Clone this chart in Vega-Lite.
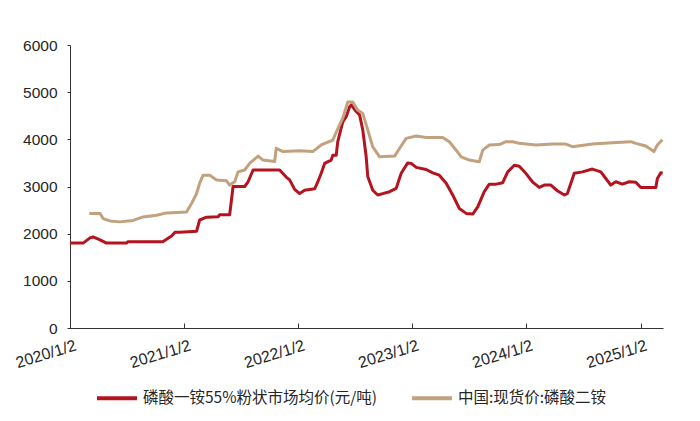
{
  "$schema": "https://vega.github.io/schema/vega-lite/v6.json",
  "autosize": {"type": "none"},
  "padding": {"left": 70, "top": 45, "right": 37, "bottom": 93},
  "width": 593,
  "height": 283,
  "background": "white",
  "config": {
    "view": {"stroke": null},
    "axis": {"grid": false, "domainColor": "#333333", "tickColor": "#333333", "labelColor": "#262626", "labelFont": "Liberation Sans", "labelFontSize": 15.5}
  },
  "datasets": {
    "prices": [
      {"date": "2020-01-02", "series": "磷酸一铵55%粉状市场均价(元/吨)", "value": 1800},
      {"date": "2020-02-13", "series": "磷酸一铵55%粉状市场均价(元/吨)", "value": 1800},
      {"date": "2020-03-06", "series": "磷酸一铵55%粉状市场均价(元/吨)", "value": 1910},
      {"date": "2020-03-16", "series": "磷酸一铵55%粉状市场均价(元/吨)", "value": 1930},
      {"date": "2020-04-07", "series": "磷酸一铵55%粉状市场均价(元/吨)", "value": 1870},
      {"date": "2020-04-28", "series": "磷酸一铵55%粉状市场均价(元/吨)", "value": 1800},
      {"date": "2020-07-01", "series": "磷酸一铵55%粉状市场均价(元/吨)", "value": 1800},
      {"date": "2020-07-05", "series": "磷酸一铵55%粉状市场均价(元/吨)", "value": 1830},
      {"date": "2020-10-25", "series": "磷酸一铵55%粉状市场均价(元/吨)", "value": 1830},
      {"date": "2020-11-06", "series": "磷酸一铵55%粉状市场均价(元/吨)", "value": 1880},
      {"date": "2020-11-22", "series": "磷酸一铵55%粉状市场均价(元/吨)", "value": 1950},
      {"date": "2020-12-03", "series": "磷酸一铵55%粉状市场均价(元/吨)", "value": 2030},
      {"date": "2020-12-19", "series": "磷酸一铵55%粉状市场均价(元/吨)", "value": 2030},
      {"date": "2021-02-10", "series": "磷酸一铵55%粉状市场均价(元/吨)", "value": 2050},
      {"date": "2021-02-20", "series": "磷酸一铵55%粉状市场均价(元/吨)", "value": 2290},
      {"date": "2021-03-14", "series": "磷酸一铵55%粉状市场均价(元/吨)", "value": 2350},
      {"date": "2021-04-20", "series": "磷酸一铵55%粉状市场均价(元/吨)", "value": 2360},
      {"date": "2021-04-25", "series": "磷酸一铵55%粉状市场均价(元/吨)", "value": 2400},
      {"date": "2021-05-27", "series": "磷酸一铵55%粉状市场均价(元/吨)", "value": 2400},
      {"date": "2021-06-07", "series": "磷酸一铵55%粉状市场均价(元/吨)", "value": 3000},
      {"date": "2021-07-14", "series": "磷酸一铵55%粉状市场均价(元/吨)", "value": 3000},
      {"date": "2021-07-25", "series": "磷酸一铵55%粉状市场均价(元/吨)", "value": 3100},
      {"date": "2021-08-10", "series": "磷酸一铵55%粉状市场均价(元/吨)", "value": 3350},
      {"date": "2021-11-03", "series": "磷酸一铵55%粉状市场均价(元/吨)", "value": 3350},
      {"date": "2021-11-24", "series": "磷酸一铵55%粉状市场均价(元/吨)", "value": 3200},
      {"date": "2021-12-05", "series": "磷酸一铵55%粉状市场均价(元/吨)", "value": 3140},
      {"date": "2021-12-21", "series": "磷酸一铵55%粉状市场均价(元/吨)", "value": 2940},
      {"date": "2022-01-06", "series": "磷酸一铵55%粉状市场均价(元/吨)", "value": 2850},
      {"date": "2022-01-22", "series": "磷酸一铵55%粉状市场均价(元/吨)", "value": 2920},
      {"date": "2022-02-23", "series": "磷酸一铵55%粉状市场均价(元/吨)", "value": 2950},
      {"date": "2022-03-04", "series": "磷酸一铵55%粉状市场均价(元/吨)", "value": 3080},
      {"date": "2022-03-16", "series": "磷酸一铵55%粉状市场均价(元/吨)", "value": 3280},
      {"date": "2022-03-27", "series": "磷酸一铵55%粉状市场均价(元/吨)", "value": 3490},
      {"date": "2022-04-17", "series": "磷酸一铵55%粉状市场均价(元/吨)", "value": 3560},
      {"date": "2022-04-22", "series": "磷酸一铵55%粉状市场均价(元/吨)", "value": 3660},
      {"date": "2022-05-03", "series": "磷酸一铵55%粉状市场均价(元/吨)", "value": 3660},
      {"date": "2022-05-08", "series": "磷酸一铵55%粉状市场均价(元/吨)", "value": 3950},
      {"date": "2022-05-24", "series": "磷酸一铵55%粉状市场均价(元/吨)", "value": 4370},
      {"date": "2022-06-04", "series": "磷酸一铵55%粉状市场均价(元/吨)", "value": 4480},
      {"date": "2022-06-15", "series": "磷酸一铵55%粉状市场均价(元/吨)", "value": 4690},
      {"date": "2022-06-20", "series": "磷酸一铵55%粉状市场均价(元/吨)", "value": 4730},
      {"date": "2022-07-06", "series": "磷酸一铵55%粉状市场均价(元/吨)", "value": 4590},
      {"date": "2022-07-17", "series": "磷酸一铵55%粉状市场均价(元/吨)", "value": 4515},
      {"date": "2022-07-27", "series": "磷酸一铵55%粉状市场均价(元/吨)", "value": 4200},
      {"date": "2022-08-07", "series": "磷酸一铵55%粉状市场均价(元/吨)", "value": 3630},
      {"date": "2022-08-12", "series": "磷酸一铵55%粉状市场均价(元/吨)", "value": 3210},
      {"date": "2022-08-28", "series": "磷酸一铵55%粉状市场均价(元/吨)", "value": 2920},
      {"date": "2022-09-13", "series": "磷酸一铵55%粉状市场均价(元/吨)", "value": 2820},
      {"date": "2022-09-29", "series": "磷酸一铵55%粉状市场均价(元/吨)", "value": 2850},
      {"date": "2022-10-21", "series": "磷酸一铵55%粉状市场均价(元/吨)", "value": 2890},
      {"date": "2022-11-11", "series": "磷酸一铵55%粉状市场均价(元/吨)", "value": 2960},
      {"date": "2022-11-27", "series": "磷酸一铵55%粉状市场均价(元/吨)", "value": 3280},
      {"date": "2022-12-18", "series": "磷酸一铵55%粉状市场均价(元/吨)", "value": 3500},
      {"date": "2022-12-29", "series": "磷酸一铵55%粉状市场均价(元/吨)", "value": 3490},
      {"date": "2023-01-14", "series": "磷酸一铵55%粉状市场均价(元/吨)", "value": 3405},
      {"date": "2023-02-15", "series": "磷酸一铵55%粉状市场均价(元/吨)", "value": 3360},
      {"date": "2023-03-08", "series": "磷酸一铵55%粉状市场均价(元/吨)", "value": 3290},
      {"date": "2023-03-29", "series": "磷酸一铵55%粉状市场均价(元/吨)", "value": 3240},
      {"date": "2023-04-20", "series": "磷酸一铵55%粉状市场均价(元/吨)", "value": 3070},
      {"date": "2023-05-11", "series": "磷酸一铵55%粉状市场均价(元/吨)", "value": 2820},
      {"date": "2023-06-01", "series": "磷酸一铵55%粉状市场均价(元/吨)", "value": 2535},
      {"date": "2023-06-23", "series": "磷酸一铵55%粉状市场均价(元/吨)", "value": 2430},
      {"date": "2023-07-14", "series": "磷酸一铵55%粉状市场均价(元/吨)", "value": 2415},
      {"date": "2023-07-30", "series": "磷酸一铵55%粉状市场均价(元/吨)", "value": 2570},
      {"date": "2023-08-20", "series": "磷酸一铵55%粉状市场均价(元/吨)", "value": 2890},
      {"date": "2023-09-05", "series": "磷酸一铵55%粉状市场均价(元/吨)", "value": 3050},
      {"date": "2023-09-27", "series": "磷酸一铵55%粉状市场均价(元/吨)", "value": 3050},
      {"date": "2023-10-18", "series": "磷酸一铵55%粉状市场均价(元/吨)", "value": 3080},
      {"date": "2023-11-03", "series": "磷酸一铵55%粉状市场均价(元/吨)", "value": 3310},
      {"date": "2023-11-24", "series": "磷酸一铵55%粉状市场均价(元/吨)", "value": 3450},
      {"date": "2023-12-10", "series": "磷酸一铵55%粉状市场均价(元/吨)", "value": 3430},
      {"date": "2023-12-31", "series": "磷酸一铵55%粉状市场均价(元/吨)", "value": 3280},
      {"date": "2024-01-21", "series": "磷酸一铵55%粉状市场均价(元/吨)", "value": 3100},
      {"date": "2024-02-12", "series": "磷酸一铵55%粉状市场均价(元/吨)", "value": 2980},
      {"date": "2024-02-28", "series": "磷酸一铵55%粉状市场均价(元/吨)", "value": 3030},
      {"date": "2024-03-20", "series": "磷酸一铵55%粉状市场均价(元/吨)", "value": 3030},
      {"date": "2024-04-10", "series": "磷酸一铵55%粉状市场均价(元/吨)", "value": 2910},
      {"date": "2024-05-02", "series": "磷酸一铵55%粉状市场均价(元/吨)", "value": 2820},
      {"date": "2024-05-12", "series": "磷酸一铵55%粉状市场均价(元/吨)", "value": 2850},
      {"date": "2024-06-03", "series": "磷酸一铵55%粉状市场均价(元/吨)", "value": 3280},
      {"date": "2024-06-29", "series": "磷酸一铵55%粉状市场均价(元/吨)", "value": 3310},
      {"date": "2024-07-31", "series": "磷酸一铵55%粉状市场均价(元/吨)", "value": 3370},
      {"date": "2024-08-27", "series": "磷酸一铵55%粉状市场均价(元/吨)", "value": 3310},
      {"date": "2024-09-12", "series": "磷酸一铵55%粉状市场均价(元/吨)", "value": 3170},
      {"date": "2024-09-28", "series": "磷酸一铵55%粉状市场均价(元/吨)", "value": 3030},
      {"date": "2024-10-14", "series": "磷酸一铵55%粉状市场均价(元/吨)", "value": 3100},
      {"date": "2024-11-04", "series": "磷酸一铵55%粉状市场均价(元/吨)", "value": 3050},
      {"date": "2024-11-26", "series": "磷酸一铵55%粉状市场均价(元/吨)", "value": 3100},
      {"date": "2024-12-17", "series": "磷酸一铵55%粉状市场均价(元/吨)", "value": 3090},
      {"date": "2025-01-02", "series": "磷酸一铵55%粉状市场均价(元/吨)", "value": 2980},
      {"date": "2025-02-19", "series": "磷酸一铵55%粉状市场均价(元/吨)", "value": 2980},
      {"date": "2025-02-24", "series": "磷酸一铵55%粉状市场均价(元/吨)", "value": 3170},
      {"date": "2025-03-07", "series": "磷酸一铵55%粉状市场均价(元/吨)", "value": 3290},
      {"date": "2025-03-13", "series": "磷酸一铵55%粉状市场均价(元/吨)", "value": 3280},
      {"date": "2020-03-04", "series": "中国:现货价:磷酸二铵", "value": 2430},
      {"date": "2020-04-07", "series": "中国:现货价:磷酸二铵", "value": 2430},
      {"date": "2020-04-17", "series": "中国:现货价:磷酸二铵", "value": 2320},
      {"date": "2020-05-09", "series": "中国:现货价:磷酸二铵", "value": 2270},
      {"date": "2020-06-10", "series": "中国:现货价:磷酸二铵", "value": 2250},
      {"date": "2020-07-22", "series": "中国:现货价:磷酸二铵", "value": 2280},
      {"date": "2020-08-23", "series": "中国:现货价:磷酸二铵", "value": 2355},
      {"date": "2020-10-05", "series": "中国:现货价:磷酸二铵", "value": 2390},
      {"date": "2020-11-06", "series": "中国:现货价:磷酸二铵", "value": 2440},
      {"date": "2021-01-09", "series": "中国:现货价:磷酸二铵", "value": 2460},
      {"date": "2021-01-25", "series": "中国:现货价:磷酸二铵", "value": 2640},
      {"date": "2021-02-10", "series": "中国:现货价:磷酸二铵", "value": 2850},
      {"date": "2021-02-20", "series": "中国:现货价:磷酸二铵", "value": 3070},
      {"date": "2021-03-03", "series": "中国:现货价:磷酸二铵", "value": 3240},
      {"date": "2021-03-24", "series": "中国:现货价:磷酸二铵", "value": 3240},
      {"date": "2021-04-15", "series": "中国:现货价:磷酸二铵", "value": 3140},
      {"date": "2021-05-17", "series": "中国:现货价:磷酸二铵", "value": 3120},
      {"date": "2021-05-27", "series": "中国:现货价:磷酸二铵", "value": 3030},
      {"date": "2021-06-12", "series": "中国:现货价:磷酸二铵", "value": 3100},
      {"date": "2021-06-23", "series": "中国:现货价:磷酸二铵", "value": 3310},
      {"date": "2021-07-14", "series": "中国:现货价:磷酸二铵", "value": 3350},
      {"date": "2021-07-30", "series": "中国:现货价:磷酸二铵", "value": 3490},
      {"date": "2021-08-26", "series": "中国:现货价:磷酸二铵", "value": 3645},
      {"date": "2021-09-11", "series": "中国:现货价:磷酸二铵", "value": 3560},
      {"date": "2021-10-18", "series": "中国:现货价:磷酸二铵", "value": 3530},
      {"date": "2021-10-23", "series": "中国:现货价:磷酸二铵", "value": 3810},
      {"date": "2021-11-14", "series": "中国:现货价:磷酸二铵", "value": 3740},
      {"date": "2022-01-06", "series": "中国:现货价:磷酸二铵", "value": 3760},
      {"date": "2022-02-17", "series": "中国:现货价:磷酸二铵", "value": 3740},
      {"date": "2022-03-16", "series": "中国:现货价:磷酸二铵", "value": 3880},
      {"date": "2022-04-22", "series": "中国:现货价:磷酸二铵", "value": 3985},
      {"date": "2022-05-03", "series": "中国:现货价:磷酸二铵", "value": 4150},
      {"date": "2022-05-24", "series": "中国:现货价:磷酸二铵", "value": 4450},
      {"date": "2022-06-09", "series": "中国:现货价:磷酸二铵", "value": 4790},
      {"date": "2022-06-25", "series": "中国:现货价:磷酸二铵", "value": 4790},
      {"date": "2022-07-11", "series": "中国:现货价:磷酸二铵", "value": 4620},
      {"date": "2022-07-27", "series": "中国:现货价:磷酸二铵", "value": 4550},
      {"date": "2022-08-12", "series": "中国:现货价:磷酸二铵", "value": 4200},
      {"date": "2022-08-28", "series": "中国:现货价:磷酸二铵", "value": 3840},
      {"date": "2022-09-19", "series": "中国:现货价:磷酸二铵", "value": 3630},
      {"date": "2022-11-06", "series": "中国:现货价:磷酸二铵", "value": 3645},
      {"date": "2022-11-22", "series": "中国:现货价:磷酸二铵", "value": 3810},
      {"date": "2022-12-13", "series": "中国:现货价:磷酸二铵", "value": 4020},
      {"date": "2023-01-14", "series": "中国:现货价:磷酸二铵", "value": 4070},
      {"date": "2023-02-15", "series": "中国:现货价:磷酸二铵", "value": 4040},
      {"date": "2023-04-09", "series": "中国:现货价:磷酸二铵", "value": 4040},
      {"date": "2023-04-30", "series": "中国:现货价:磷酸二铵", "value": 3950},
      {"date": "2023-05-22", "series": "中国:现货价:磷酸二铵", "value": 3770},
      {"date": "2023-06-07", "series": "中国:现货价:磷酸二铵", "value": 3630},
      {"date": "2023-07-03", "series": "中国:现货价:磷酸二铵", "value": 3560},
      {"date": "2023-08-04", "series": "中国:现货价:磷酸二铵", "value": 3525},
      {"date": "2023-08-15", "series": "中国:现货价:磷酸二铵", "value": 3770},
      {"date": "2023-09-05", "series": "中国:现货价:磷酸二铵", "value": 3880},
      {"date": "2023-10-07", "series": "中国:现货价:磷酸二铵", "value": 3890},
      {"date": "2023-10-28", "series": "中国:现货价:磷酸二铵", "value": 3950},
      {"date": "2023-11-19", "series": "中国:现货价:磷酸二铵", "value": 3950},
      {"date": "2023-12-10", "series": "中国:现货价:磷酸二铵", "value": 3915},
      {"date": "2024-02-01", "series": "中国:现货价:磷酸二铵", "value": 3880},
      {"date": "2024-03-25", "series": "中国:现货价:磷酸二铵", "value": 3900},
      {"date": "2024-05-07", "series": "中国:现货价:磷酸二铵", "value": 3900},
      {"date": "2024-05-28", "series": "中国:现货价:磷酸二铵", "value": 3845},
      {"date": "2024-07-31", "series": "中国:现货价:磷酸二铵", "value": 3900},
      {"date": "2024-10-03", "series": "中国:现货价:磷酸二铵", "value": 3930},
      {"date": "2024-12-01", "series": "中国:现货价:磷酸二铵", "value": 3950},
      {"date": "2024-12-17", "series": "中国:现货价:磷酸二铵", "value": 3915},
      {"date": "2025-01-18", "series": "中国:现货价:磷酸二铵", "value": 3860},
      {"date": "2025-02-13", "series": "中国:现货价:磷酸二铵", "value": 3740},
      {"date": "2025-02-24", "series": "中国:现货价:磷酸二铵", "value": 3880},
      {"date": "2025-03-12", "series": "中国:现货价:磷酸二铵", "value": 3990}
    ]
  },
  "data": {"name": "prices"},
  "mark": {"type": "line", "strokeWidth": 3, "strokeJoin": "round"},
  "encoding": {
    "x": {
      "field": "date",
      "type": "temporal",
      "scale": {"domain": ["2020-01-02", "2025-03-14"]},
      "axis": {
        "title": null,
        "values": ["2020-01-02", "2021-01-02", "2022-01-02", "2023-01-02", "2024-01-02", "2025-01-02"],
        "format": "%Y/%-m/%-d",
        "labelAngle": -17,
        "labelAlign": "right",
        "labelBaseline": "top",
        "labelOffset": 3,
        "labelPadding": 14,
        "tickSize": -5,
        "labelFontSize": 16
      }
    },
    "y": {
      "field": "value",
      "type": "quantitative",
      "scale": {"domain": [0, 6000]},
      "axis": {"title": null, "format": "d", "values": [0, 1000, 2000, 3000, 4000, 5000, 6000], "tickSize": 3, "labelPadding": 10}
    },
    "color": {
      "field": "series",
      "type": "nominal",
      "scale": {
        "domain": ["磷酸一铵55%粉状市场均价(元/吨)", "中国:现货价:磷酸二铵"],
        "range": ["#B3141F", "#C2A27E"]
      },
      "legend": {
        "title": null,
        "orient": "none",
        "direction": "horizontal",
        "legendX": 25,
        "legendY": 331,
        "symbolType": "stroke",
        "symbolSize": 1600,
        "symbolStrokeWidth": 4,
        "labelFont": "Noto Sans CJK SC",
        "labelFontSize": 15.5,
        "labelColor": "#262626",
        "labelLimit": 400,
        "columnPadding": 26,
        "labelOffset": 4
      }
    }
  }
}
